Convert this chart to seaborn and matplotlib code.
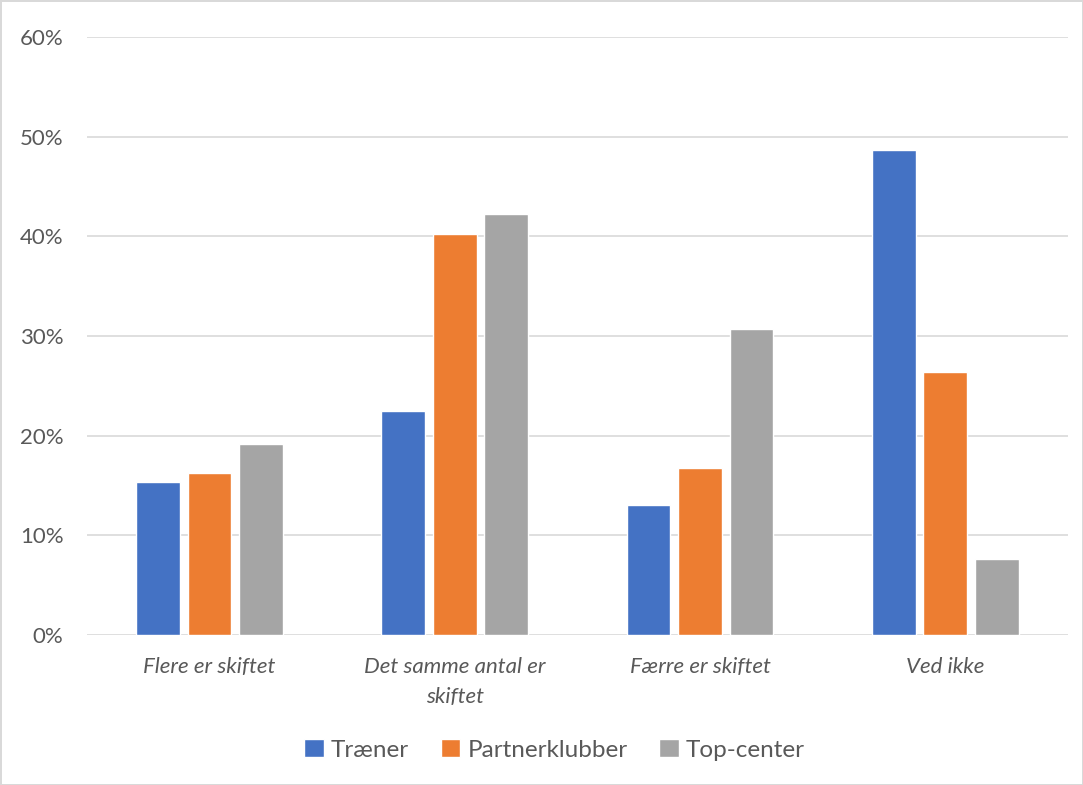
import pandas as pd
import matplotlib.pyplot as plt
import seaborn as sns
from matplotlib.ticker import PercentFormatter

# Data (share of respondents)
categories = ["Flere er skiftet", "Det samme antal er\nskiftet", "Færre er skiftet", "Ved ikke"]
series = ["Træner", "Partnerklubber", "Top-center"]
traener = [0.154, 0.225, 0.130, 0.487]
partnerklubber = [0.163, 0.402, 0.168, 0.264]
top_center = [0.192, 0.422, 0.307, 0.076]
colors = ["#4472C4", "#ED7D31", "#A5A5A5"]

rows = []
for name, vals in zip(series, [traener, partnerklubber, top_center]):
    for cat, v in zip(categories, vals):
        rows.append({"Kategori": cat, "Serie": name, "Andel": v})
df = pd.DataFrame(rows)

sns.set_style("white")
plt.rcParams['font.family'] = ['Lato', 'DejaVu Sans']

fig = plt.figure(figsize=(10.83, 7.85), dpi=100)
fig.patch.set_edgecolor("#d9d9d9")
fig.patch.set_linewidth(2)
ax = fig.add_axes([0.0803, 0.191, 0.9057, 0.762])

sns.barplot(data=df, x="Kategori", y="Andel", hue="Serie", palette=colors,
            saturation=1, width=0.63, gap=0.15, ax=ax, zorder=3)

ax.set_ylim(0, 0.6)
ax.set_yticks([0, 0.1, 0.2, 0.3, 0.4, 0.5, 0.6])
ax.yaxis.set_major_formatter(PercentFormatter(1.0, decimals=0))
ax.grid(axis="y", color="#d9d9d9", linewidth=1.2, zorder=0)
ax.set_axisbelow(True)
for s in ax.spines.values():
    s.set_visible(False)
ax.set_xlabel("")
ax.set_ylabel("")
ax.tick_params(axis="both", length=0, colors="#595959", labelsize=16)
ax.tick_params(axis="y", pad=17)
ax.tick_params(axis="x", pad=16)
for lbl in ax.get_xticklabels():
    lbl.set_fontstyle("italic")
    lbl.set_linespacing(1.6)

handles, labels = ax.get_legend_handles_labels()
ax.legend(handles, labels, loc="center", bbox_to_anchor=(0.512, 0.045),
          bbox_transform=fig.transFigure, ncol=3, frameon=False,
          handlelength=0.8, handleheight=0.8, handletextpad=0.3,
          columnspacing=1.3, fontsize=17.5, labelcolor="#595959")

fig.savefig("out.png", dpi=100, edgecolor=fig.get_edgecolor())
